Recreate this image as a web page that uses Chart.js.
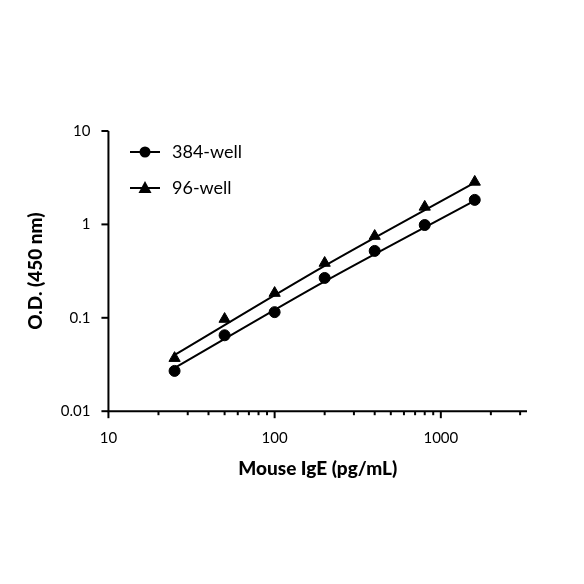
<!DOCTYPE html><html><head><style>html,body{margin:0;background:#fff}#w{width:584px;height:584px}</style>
<script src="https://cdn.jsdelivr.net/npm/chart.js@4"></script></head><body><div id="w"><canvas id="c"></canvas></div><script>
const concentrations=[25,50,100,200,400,800,1600];
const od384=[0.027,0.065,0.115,0.267,0.52,0.985,1.83];
const od96=[0.037,0.097,0.184,0.386,0.75,1.54,2.85];
const fitX=[25,200,1600];
const fit384=[0.029,0.245,1.8];
const fit96=[0.04,0.36,2.8];
const xTicks=[10,100,1000];
const yTicks=[0.01,0.1,1,10];
const seriesNames=['384-well','96-well'];
const F='Lato, "DejaVu Sans", sans-serif';
const axesPlugin={id:'ax',afterDraw(ch){const c=ch.ctx,x=ch.scales.x,y=ch.scales.y,a=ch.chartArea;c.save();c.strokeStyle='#000';c.lineWidth=2;
c.beginPath();c.moveTo(a.left,a.top);c.lineTo(a.left,a.bottom);c.lineTo(a.right,a.bottom);c.stroke();
for(let d=10;d<=3000;d*=10){for(let k=1;k<10;k++){const v=d*k;if(v>3300)break;const p=x.getPixelForValue(v);c.beginPath();c.moveTo(p,a.bottom);c.lineTo(p,a.bottom+(k==1?7:4));c.stroke();}}
yTicks.forEach(v=>{const p=y.getPixelForValue(v);c.beginPath();c.moveTo(a.left,p);c.lineTo(a.left-7,p);c.stroke();});
const L=[[seriesNames[0],'circle',152],[seriesNames[1],'triangle',188]];
L.forEach(([t,s,yy])=>{c.beginPath();c.moveTo(130,yy);c.lineTo(160,yy);c.stroke();c.fillStyle='#000';c.beginPath();
if(s=='circle')c.arc(145,yy,5.5,0,7);else{c.moveTo(145,yy-7);c.lineTo(151.5,yy+5);c.lineTo(138.5,yy+5);c.closePath();}c.fill();
c.font='18px '+F;c.textBaseline='middle';c.fillText(t,172,yy);});
c.restore();}};
const pts=(xs,ys)=>xs.map((v,i)=>({x:v,y:ys[i]}));
new Chart(document.getElementById('c'),{type:'line',data:{datasets:[
{data:pts(fitX,fit384),borderColor:'#000',borderWidth:2,pointRadius:0,tension:0.3},
{data:pts(fitX,fit96),borderColor:'#000',borderWidth:2,pointRadius:0,tension:0.3},
{data:pts(concentrations,od384),showLine:false,backgroundColor:'#000',borderColor:'#000',pointStyle:'circle',pointRadius:5.5},
{data:pts(concentrations,od96),showLine:false,backgroundColor:'#000',borderColor:'#000',pointStyle:'triangle',pointRadius:6.5}]},
options:{responsive:true,maintainAspectRatio:false,animation:false,layout:{padding:{left:20,right:57,top:131,bottom:100}},
plugins:{legend:{display:false},tooltip:{enabled:false}},
scales:{x:{type:'logarithmic',min:10,max:3300,grid:{display:false},border:{display:false},afterBuildTicks:s=>{s.ticks=xTicks.map(v=>({value:v}))},
ticks:{color:'#000',font:{family:F,size:15},padding:10,maxRotation:0,callback:v=>String(v)},title:{display:true,text:'Mouse IgE (pg/mL)',color:'#000',font:{family:F,size:19,weight:'900'},padding:{top:0}}},
y:{type:'logarithmic',min:0.01,max:10,grid:{display:false},border:{display:false},afterBuildTicks:s=>{s.ticks=yTicks.map(v=>({value:v}))},
ticks:{color:'#000',font:{family:F,size:15},padding:10,callback:v=>String(v)},title:{display:true,text:'O.D. (450 nm)',color:'#000',font:{family:F,size:19,weight:'900'},padding:{bottom:4}}}}},
plugins:[axesPlugin]});
</script></body></html>
